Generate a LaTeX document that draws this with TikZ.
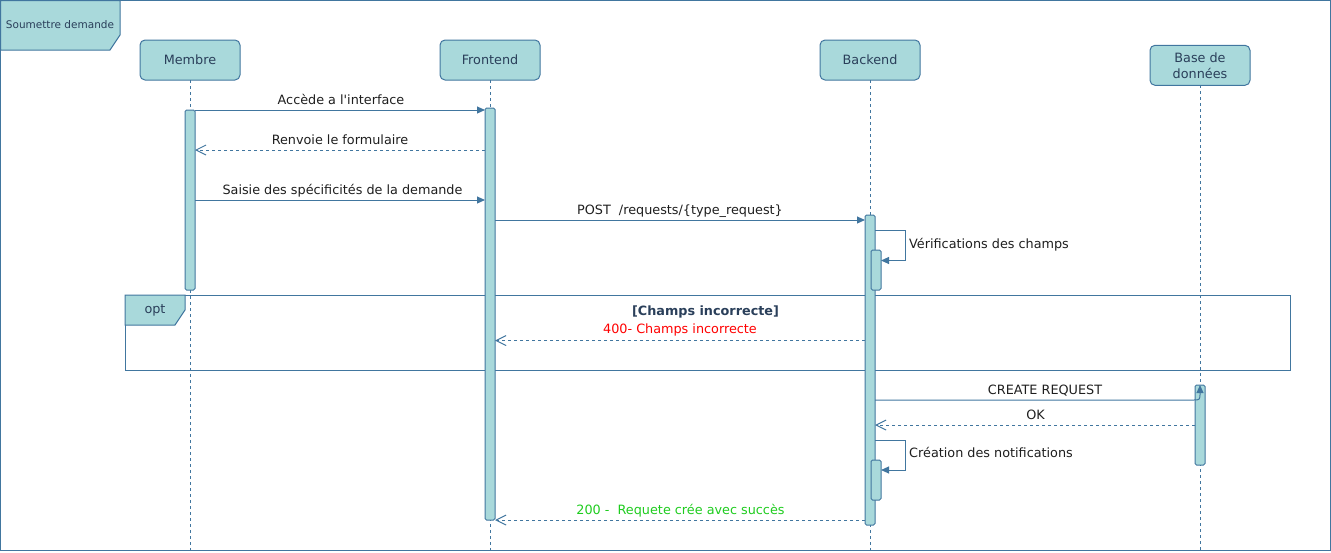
\documentclass[tikz,border=0pt]{standalone}
\usepackage{fontspec}
\setmainfont{DejaVu Sans}
\usetikzlibrary{arrows.meta}
\definecolor{stk}{HTML}{41769F}
\definecolor{fil}{HTML}{A9D9DB}
\definecolor{ttl}{HTML}{2A3F5A}
\definecolor{txt}{HTML}{1E1E1E}
\definecolor{errred}{HTML}{FF0000}
\definecolor{okgreen}{HTML}{1ECC1E}
\begin{document}
\begin{tikzpicture}[x=1pt,y=-1pt,
 part/.style={draw=stk, fill=fil, rounded corners=5pt, minimum width=100pt, minimum height=40pt, inner sep=0pt, outer sep=0pt, line width=1pt, text=ttl, font=\fontsize{12.8}{16}\selectfont, align=center},
 act/.style={draw=stk, fill=fil, rounded corners=1.5pt, minimum width=10pt, inner sep=0pt, outer sep=0pt, line width=1pt},
 life/.style={draw=stk, line width=1pt, dash pattern=on 3pt off 3pt},
 msg/.style={draw=stk, line width=1pt, -{Triangle[length=8pt,width=7pt]}},
 ret/.style={draw=stk, line width=1pt, dash pattern=on 3pt off 3pt, -{Straight Barb[length=10pt,width=10pt,line width=1pt]}},
 lbl/.style={anchor=base, text=txt, font=\fontsize{12.8}{15}\selectfont, inner sep=0pt},
 frm/.style={draw=stk, line width=1pt},
 tab/.style={draw=stk, fill=fil, line width=1pt},
]
\useasboundingbox (0,0) rectangle (1331,552);
% outer frame
\draw[frm] (0.5,0.5) rectangle (1330.5,550.5);
\draw[tab] (0.5,0.5) -- (120,0.5) -- (120,35) -- (110,50) -- (0.5,50) -- cycle;
\node[text=ttl, font=\fontsize{10.5}{12}\selectfont] (title) at (60,25) {Soumettre demande};

% participants
\node[part] (membre) at (190,60) {Membre};
\node[part] (front) at (490,60) {Frontend};
\node[part] (back) at (870,60) {Backend};
\node[part] (db) at (1200,65.3) {Base de\\données};

\coordinate (bottom) at (0,550);
\draw[life] (membre.south) -- (membre.south |- bottom);
\draw[life] (front.south) -- (front.south |- bottom);
\draw[life] (back.south) -- (back.south |- bottom);
\draw[life] (db.south) -- (db.south |- bottom);

% opt fragment
\draw[frm] (125,295) rectangle (1290,370);
\draw[tab] (125,295) -- (185,295) -- (185,310) -- (175,325) -- (125,325) -- cycle;
\node[text=ttl, font=\fontsize{12.8}{15}\selectfont] (optl) at (155,310) {opt};
\node[anchor=base, inner sep=0pt, text=ttl, font=\bfseries\fontsize{12.8}{15}\selectfont] (guard) at (705.5,315) {[Champs incorrecte]};

% activations
\node[act, minimum height=180pt] (aM) at (190,200) {};
\node[act, minimum height=412pt] (aF) at (490,314) {};
\node[act, minimum height=310pt] (aB) at (870,370) {};
\node[act, minimum height=40pt] (aB1) at (876,270) {};
\node[act, minimum height=40pt] (aB2) at (876,480) {};
\node[act, minimum height=80pt] (aD) at (1200,425) {};

% message levels
\coordinate (m1) at (0,110);
\coordinate (m2) at (0,150);
\coordinate (m3) at (0,200);
\coordinate (m4) at (0,220);
\coordinate (m7) at (0,340.5);
\coordinate (m8) at (0,400);
\coordinate (m9) at (0,425);
\coordinate (m11) at (0,520);

\draw[msg] (aM.east |- m1) -- (aF.west |- m1);
\node[lbl] (l1) at (341,104) {Accède a l\textquotesingle interface};

\draw[ret] (aF.west |- m2) -- (aM.east |- m2);
\node[lbl] (l2) at (340,144) {Renvoie le formulaire};

\draw[msg] (aM.east |- m3) -- (aF.west |- m3);
\node[lbl] (l3) at (342.5,194) {Saisie des spécificités de la demande};

\draw[msg] (aF.east |- m4) -- (aB.west |- m4);
\node[lbl] (l4) at (680,214) {POST\ \ /requests/\{type\_request\}};

% self message 1
\coordinate (s1a) at (905,230.5);
\coordinate (s1b) at (905,260.5);
\draw[msg] (aB.east |- s1a) -- (s1a) -- (s1b) -- (aB1.east |- s1b);
\node[lbl, anchor=base west] (l5) at (909,248) {Vérifications des champs};

% 400
\draw[ret] (aB.west |- m7) -- (aF.east |- m7);
\node[lbl, text=errred] (l7) at (680,333.5) {400- Champs incorrecte};

% create request
\coordinate (c8a) at (1193,400);
\coordinate (c8b) at (1200,400);
\draw[msg] (aB.east |- m8) -- (c8a) .. controls (c8b) .. (aD.north);
\node[lbl] (l8) at (1045,394) {CREATE REQUEST};

\draw[ret] (aD.west |- m9) -- (aB.east |- m9);
\node[lbl] (l9) at (1035.5,419) {OK};

% self message 2
\coordinate (s2a) at (905,440.5);
\coordinate (s2b) at (905,470);
\draw[msg] (aB.east |- s2a) -- (s2a) -- (s2b) -- (aB2.east |- s2b);
\node[lbl, anchor=base west] (l10) at (909,457.5) {Création des notifications};

% 200
\draw[ret] (aB.west |- m11) -- (aF.east |- m11);
\node[lbl, text=okgreen] (l11) at (680.5,514) {200 -\ \ Requete crée avec succès};
\end{tikzpicture}
\end{document}
